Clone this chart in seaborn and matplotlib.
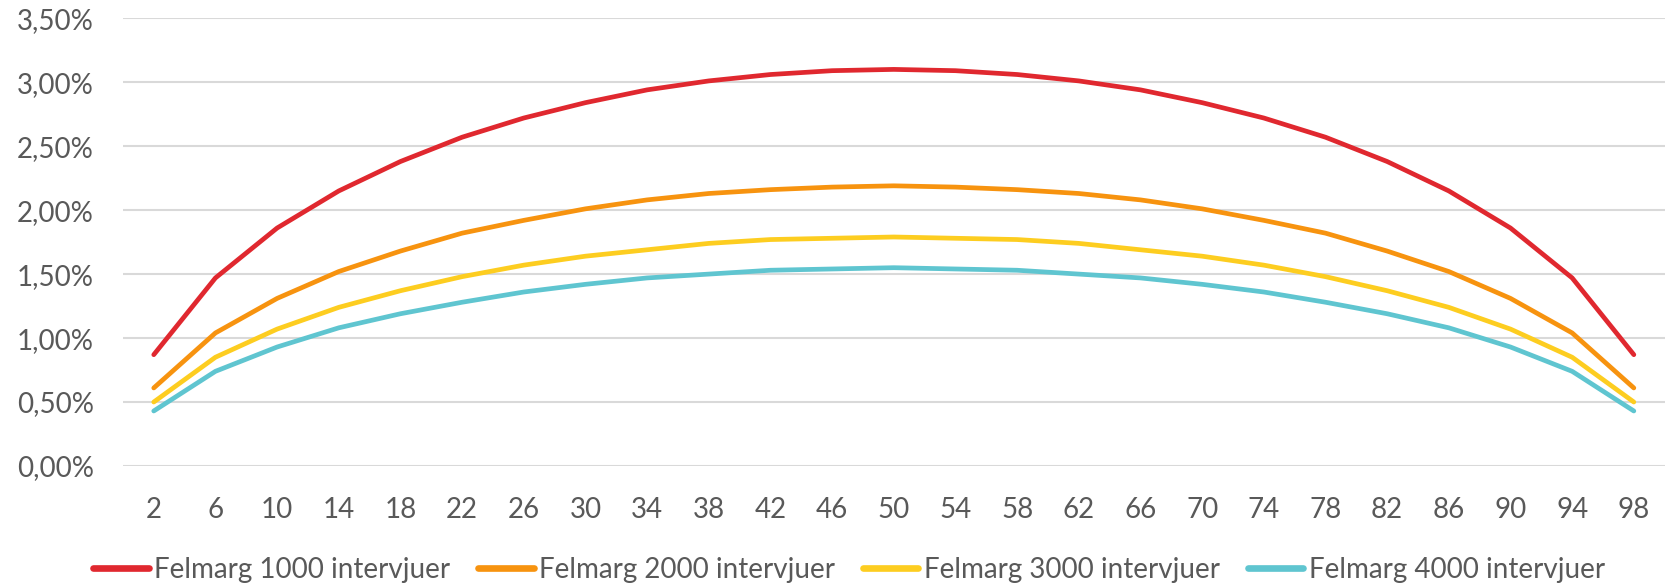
import matplotlib
matplotlib.use("Agg")
import matplotlib.pyplot as plt
import seaborn as sns
import pandas as pd
from matplotlib.ticker import FuncFormatter

categories = [2, 6, 10, 14, 18, 22, 26, 30, 34, 38, 42, 46, 50,
              54, 58, 62, 66, 70, 74, 78, 82, 86, 90, 94, 98]

half_1000 = [0.87, 1.47, 1.86, 2.15, 2.38, 2.57, 2.72, 2.84, 2.94, 3.01, 3.06, 3.09]
half_2000 = [0.61, 1.04, 1.31, 1.52, 1.68, 1.82, 1.92, 2.01, 2.08, 2.13, 2.16, 2.18]
half_3000 = [0.50, 0.85, 1.07, 1.24, 1.37, 1.48, 1.57, 1.64, 1.69, 1.74, 1.77, 1.78]
half_4000 = [0.43, 0.74, 0.93, 1.08, 1.19, 1.28, 1.36, 1.42, 1.47, 1.50, 1.53, 1.54]
peak = {"1000": 3.10, "2000": 2.19, "3000": 1.79, "4000": 1.55}

felmarg_1000 = half_1000 + [peak["1000"]] + half_1000[::-1]
felmarg_2000 = half_2000 + [peak["2000"]] + half_2000[::-1]
felmarg_3000 = half_3000 + [peak["3000"]] + half_3000[::-1]
felmarg_4000 = half_4000 + [peak["4000"]] + half_4000[::-1]

series_names = ["Felmarg 1000 intervjuer", "Felmarg 2000 intervjuer",
                "Felmarg 3000 intervjuer", "Felmarg 4000 intervjuer"]
series_values = [felmarg_1000, felmarg_2000, felmarg_3000, felmarg_4000]
colors = ["#E0282F", "#F7930F", "#FDCD20", "#5FC5D0"]
y_ticks = [0, 0.5, 1.0, 1.5, 2.0, 2.5, 3.0, 3.5]

rows = []
for name, vals in zip(series_names, series_values):
    for i, (c, v) in enumerate(zip(categories, vals)):
        rows.append({"pos": i, "cat": c, "value": v, "series": name})
df = pd.DataFrame(rows)

sns.set_style("white")
plt.rcParams["font.family"] = ["Lato", "DejaVu Sans"]

fig = plt.figure(figsize=(16.68, 5.88), dpi=100)
ax = fig.add_axes([0.0737, 0.2075, 0.9243, 0.7615])

sns.lineplot(data=df, x="pos", y="value", hue="series", hue_order=series_names,
             palette=colors, linewidth=3.4, ax=ax, legend=True,
             solid_capstyle="round")

ax.set_xlim(-0.5, len(categories) - 0.5)
ax.set_ylim(0, 3.5)
ax.set_yticks(y_ticks)
ax.yaxis.set_major_formatter(FuncFormatter(lambda v, p: f"{v:.2f}%".replace(".", ",")))
ax.set_xticks(range(len(categories)))
ax.set_xticklabels([str(c) for c in categories])
ax.set_xlabel("")
ax.set_ylabel("")
ax.grid(axis="y", color="#D9D9D9", linewidth=1.5)
ax.set_axisbelow(True)
for s in ax.spines.values():
    s.set_visible(False)
ax.tick_params(axis="both", length=0, labelsize=20, colors="#595959")
ax.tick_params(axis="x", pad=22)
ax.tick_params(axis="y", pad=21)

handles, labels = ax.get_legend_handles_labels()
ax.get_legend().remove()
for h in handles:
    h.set_linewidth(4.8)
    h.set_solid_capstyle("round")
leg = fig.legend(handles, labels, loc="center", bbox_to_anchor=(0.509, 0.031),
                 ncol=4, frameon=False, fontsize=20, handlelength=2.0,
                 handletextpad=0.2, columnspacing=1.0)
for t in leg.get_texts():
    t.set_color("#595959")

fig.savefig("out.png", dpi=100)
